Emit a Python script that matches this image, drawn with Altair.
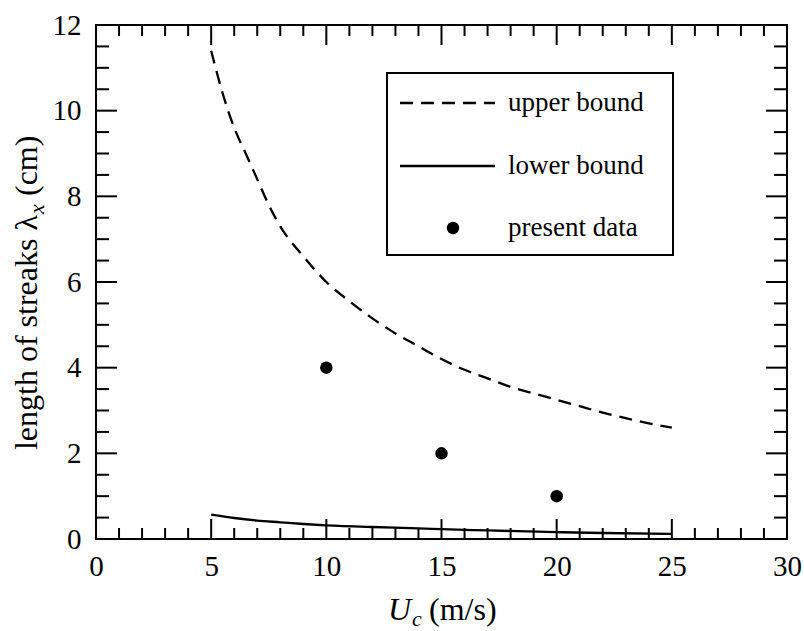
import altair as alt
import pandas as pd

# ---- data ----
upper_x = [5, 5.5, 6, 6.5, 7, 7.5, 8, 9, 10, 11, 12, 13, 14, 15, 16, 17, 18, 19, 20, 21, 22, 23, 24, 25]
upper_y = [11.4, 10.4, 9.6, 9.0, 8.4, 7.8, 7.3, 6.6, 6.0, 5.55, 5.15, 4.8, 4.5, 4.2, 3.95, 3.75, 3.55, 3.4, 3.25, 3.1, 2.95, 2.82, 2.7, 2.6]
lower_x = [5, 6, 7, 8, 9, 10, 12, 14, 15, 17, 20, 22, 25]
lower_y = [0.57, 0.49, 0.43, 0.39, 0.35, 0.32, 0.28, 0.25, 0.23, 0.2, 0.16, 0.14, 0.12]
data_x = [10, 15, 20]
data_y = [4, 2, 1]

x_major = [5, 10, 15, 20, 25]
x_minor = [v for v in range(1, 30) if v % 5 != 0]
y_major = [2, 4, 6, 8, 10]
y_minor = [v / 2 for v in range(1, 24) if v % 4 != 0]
x_labels = [0, 5, 10, 15, 20, 25, 30]
y_labels = [0, 2, 4, 6, 8, 10, 12]

legend_labels = ["upper bound", "lower bound", "present data"]

W, H = 691, 514
FONT = "'Liberation Serif', 'Times New Roman', Times, 'DejaVu Serif', serif"

xs = alt.Scale(domain=[0, 30], nice=False, zero=False)
ys = alt.Scale(domain=[0, 12], nice=False, zero=False)
x_axis = alt.Axis(values=x_labels, ticks=False, domain=False, grid=False, title=None,
                  labelFont=FONT, labelFontSize=29, labelColor="black", labelPadding=13,
                  labelFlush=False, labelOverlap=False)
y_axis = alt.Axis(values=y_labels, ticks=False, domain=False, grid=False, title=None,
                  labelFont=FONT, labelFontSize=29, labelColor="black", labelPadding=15,
                  labelFlush=False, labelOverlap=False)


def X(f):
    return alt.X(f, type="quantitative", scale=xs, axis=x_axis)


def Y(f):
    return alt.Y(f, type="quantitative", scale=ys, axis=y_axis)


one = pd.DataFrame({"a": [0]})
layers = []

# ---- inward ticks on all four sides ----
TW = 2
for vals, ln in [(x_major, 20), (x_minor, 11)]:
    d = pd.DataFrame({"v": vals})
    layers.append(alt.Chart(d).mark_rule(color="black", strokeWidth=TW).encode(
        x=X("v"), y=alt.value(H), y2=alt.value(H - ln)))
    layers.append(alt.Chart(d).mark_rule(color="black", strokeWidth=TW).encode(
        x=X("v"), y=alt.value(0), y2=alt.value(ln)))
for vals, ln in [(y_major, 21), (y_minor, 13)]:
    d = pd.DataFrame({"v": vals})
    layers.append(alt.Chart(d).mark_rule(color="black", strokeWidth=TW).encode(
        y=Y("v"), x=alt.value(0), x2=alt.value(ln)))
    layers.append(alt.Chart(d).mark_rule(color="black", strokeWidth=TW).encode(
        y=Y("v"), x=alt.value(W - ln), x2=alt.value(W)))

# ---- curves and points ----
up = pd.DataFrame({"x": upper_x, "y": upper_y})
lo = pd.DataFrame({"x": lower_x, "y": lower_y})
pts = pd.DataFrame({"x": data_x, "y": data_y})
layers.append(alt.Chart(up).mark_line(color="black", strokeWidth=2.3, strokeDash=[13, 8],
                                      interpolate="monotone").encode(x=X("x"), y=Y("y")))
layers.append(alt.Chart(lo).mark_line(color="black", strokeWidth=2.3,
                                      interpolate="monotone").encode(x=X("x"), y=Y("y")))
layers.append(alt.Chart(pts).mark_point(filled=True, color="black", opacity=1, size=155,
                                        shape="circle").encode(x=X("x"), y=Y("y")))

# ---- legend (drawn by hand) ----
LX0, LX1, LY0, LY1 = 291, 577, 48, 230
layers.append(alt.Chart(one).mark_rect(fill="white", stroke="black", strokeWidth=2).encode(
    x=alt.value(LX0), x2=alt.value(LX1), y=alt.value(LY0), y2=alt.value(LY1)))
layers.append(alt.Chart(one).mark_rule(color="black", strokeWidth=2.3, strokeDash=[13, 8]).encode(
    x=alt.value(304), x2=alt.value(399), y=alt.value(78)))
layers.append(alt.Chart(one).mark_rule(color="black", strokeWidth=2.3).encode(
    x=alt.value(304), x2=alt.value(399), y=alt.value(141)))
layers.append(alt.Chart(one).mark_point(filled=True, color="black", opacity=1, size=155,
                                        shape="circle").encode(x=alt.value(357), y=alt.value(203)))
for lbl, yy in zip(legend_labels, [78, 141, 203]):
    layers.append(alt.Chart(one).mark_text(text=lbl, font=FONT, fontSize=27, color="black",
                                           align="left", baseline="middle").encode(
        x=alt.value(412), y=alt.value(yy)))

# ---- axis titles (with subscripts) ----
# x title: U_c (m/s)
layers.append(alt.Chart(one).mark_text(text="U", font=FONT, fontSize=32, fontStyle="italic",
                                       color="black", align="left", baseline="alphabetic").encode(
    x=alt.value(292), y=alt.value(595)))
layers.append(alt.Chart(one).mark_text(text="c", font=FONT, fontSize=22, fontStyle="italic",
                                       color="black", align="left", baseline="alphabetic").encode(
    x=alt.value(316), y=alt.value(601)))
layers.append(alt.Chart(one).mark_text(text="(m/s)", font=FONT, fontSize=32,
                                       color="black", align="left", baseline="alphabetic").encode(
    x=alt.value(333), y=alt.value(595)))
# y title: length of streaks λ_x (cm)
TX = -59
AY = 190
layers.append(alt.Chart(one).mark_text(text="length of streaks λ", font=FONT, fontSize=32, angle=270,
                                       color="black", align="right", baseline="alphabetic").encode(
    x=alt.value(TX), y=alt.value(AY)))
layers.append(alt.Chart(one).mark_text(text="x", font=FONT, fontSize=22, fontStyle="italic", angle=270,
                                       color="black", align="left", baseline="alphabetic").encode(
    x=alt.value(TX + 7), y=alt.value(AY - 1)))
layers.append(alt.Chart(one).mark_text(text="(cm)", font=FONT, fontSize=32, angle=270,
                                       color="black", align="left", baseline="alphabetic").encode(
    x=alt.value(TX), y=alt.value(AY - 19)))

chart = alt.layer(*layers).properties(
    width=W, height=H,
    autosize=alt.AutoSizeParams(type="none"),
    padding={"left": 96, "top": 25, "right": 17, "bottom": 92},
    background="white",
).configure_view(stroke="black", strokeWidth=2)

chart.save("out.html", embed_options={"renderer": "svg", "actions": False})
